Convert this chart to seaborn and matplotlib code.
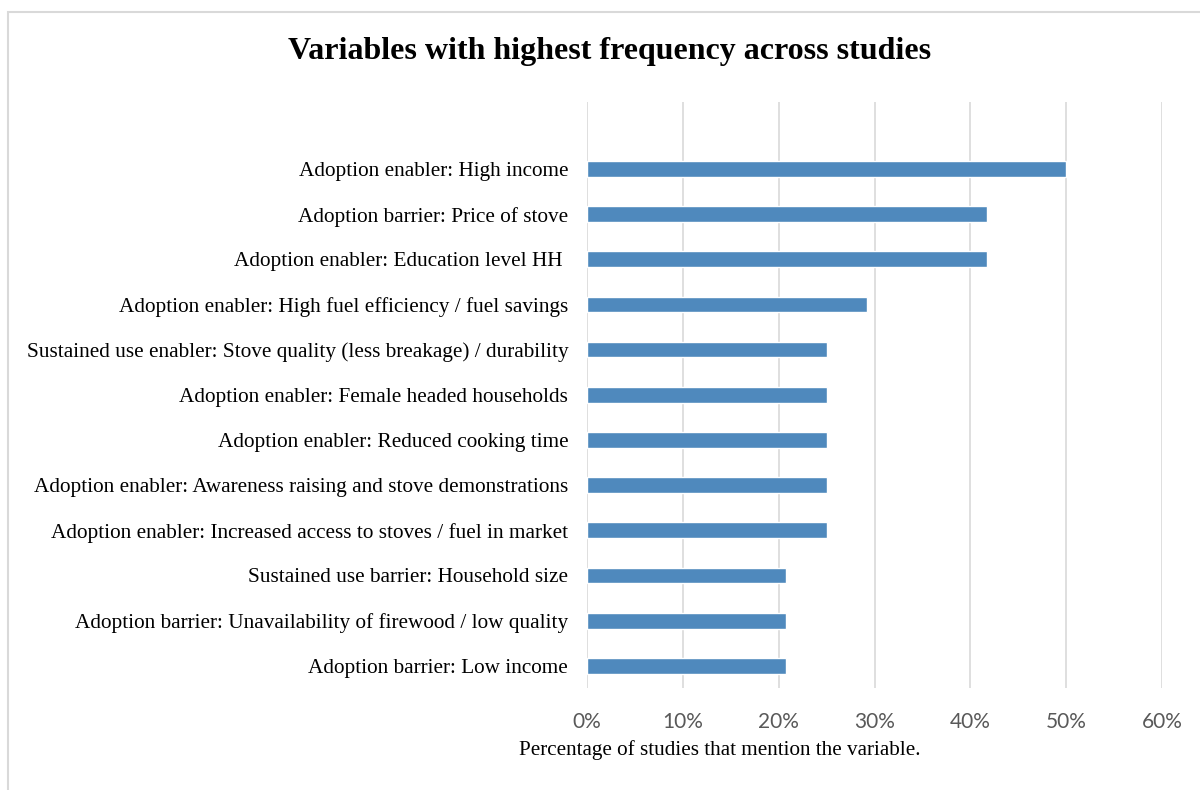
import matplotlib
matplotlib.use('Agg')
import matplotlib.pyplot as plt
import matplotlib.patches as mpatches
from matplotlib.ticker import PercentFormatter
import seaborn as sb
import pandas as pd

# data (share of studies, out of 24)
variables = [
    'Adoption enabler: High income',
    'Adoption barrier: Price of stove',
    'Adoption enabler: Education level HH ',
    'Adoption enabler: High fuel efficiency / fuel savings',
    'Sustained use enabler: Stove quality (less breakage) / durability',
    'Adoption enabler: Female headed households',
    'Adoption enabler: Reduced cooking time',
    'Adoption enabler: Awareness raising and stove demonstrations',
    'Adoption enabler: Increased access to stoves / fuel in market',
    'Sustained use barrier: Household size',
    'Adoption barrier: Unavailability of firewood / low quality',
    'Adoption barrier: Low income',
]
share = [50.0, 41.7, 41.7, 29.2, 25.0, 25.0, 25.0, 25.0, 25.0, 20.8, 20.8, 20.8]
xticks = [0, 10, 20, 30, 40, 50, 60]

df = pd.DataFrame({'variable': variables, 'share': share})

# plot style
sb.set_theme(style="whitegrid")
plt.rcParams['font.family'] = ['Liberation Serif', 'DejaVu Serif']
plt.rcParams['text.color'] = 'black'

fig = plt.figure(figsize=(12, 7.9), dpi=100)
ax = fig.add_axes([587/1200, 1 - 688/790, 575/1200, 586/790])

sb.barplot(df, y='variable', x='share', orient='h', color='#4f89bd',
           width=0.35, saturation=1, ax=ax)

ax.set_xlim(0, 60)
ax.set_ylim(11.49, -1.48)
ax.set_xticks(xticks)
ax.xaxis.set_major_formatter(PercentFormatter(decimals=0))
ax.grid(axis='x', color='#d9d9d9', linewidth=1.2)
ax.grid(axis='y', visible=False)
ax.set_axisbelow(True)
for s in ax.spines.values():
    s.set_visible(False)
ax.tick_params(axis='both', length=0)
ax.tick_params(axis='y', pad=13.5, labelsize=15.3, labelcolor='black')
ax.tick_params(axis='x', pad=17, labelsize=15, labelcolor='#595959')
for t in ax.get_xticklabels():
    t.set_family(['Lato', 'DejaVu Sans'])

ax.set_ylabel('')
ax.set_xlabel('Percentage of studies that mention the variable.',
              fontsize=15.2, color='black')
ax.xaxis.set_label_coords((719.5 - 587) / 575, -(750 - 688) / 586)
ax.xaxis.label.set_va('center')

fig.suptitle('Variables with highest frequency across studies',
             x=610/1200, y=1 - 52/790, va='center', fontsize=23,
             fontweight='bold', color='black')

# chart frame
fig.patches.append(mpatches.Rectangle((8/1200, -0.1), 1.2, 1.1 - 12/790,
                                      transform=fig.transFigure, fill=False,
                                      edgecolor='#d9d9d9', linewidth=1.5))

plt.savefig('out.png', dpi=100)
